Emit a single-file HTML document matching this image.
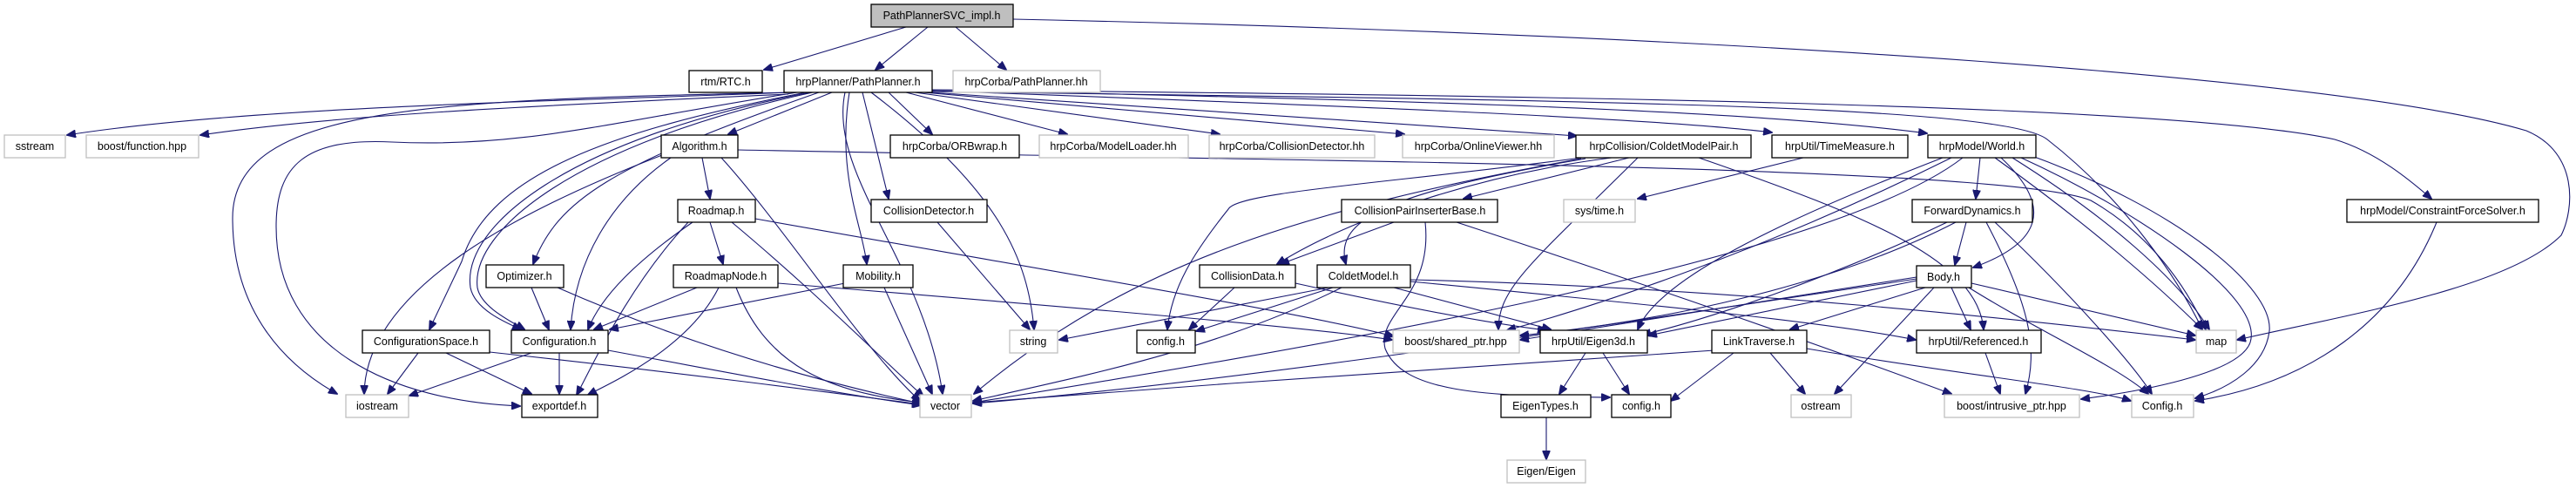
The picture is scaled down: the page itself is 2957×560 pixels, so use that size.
<!DOCTYPE html>
<html><head><meta charset="utf-8"><style>
html,body{margin:0;padding:0;background:#fff;}
svg{display:block;}
text{font-family:"Liberation Sans",sans-serif;font-size:12.5px;fill:#000;text-anchor:middle;}
.b{fill:#fff;stroke:#000;stroke-width:1.3;}
.g{fill:#fff;stroke:#bfbfbf;stroke-width:1.3;}
.e path{fill:none;stroke:#191970;stroke-width:1.1;marker-end:url(#a);}
</style></head><body>
<svg width="2957" height="560" viewBox="0 0 2957 560" xmlns="http://www.w3.org/2000/svg">
<defs><marker id="a" markerWidth="11" markerHeight="9" refX="10" refY="4.5" orient="auto" markerUnits="userSpaceOnUse"><path d="M0,0 L11,4.5 L0,9 z" fill="#191970" stroke="#191970"/></marker></defs>
<g class="e">
<path d="M1040,31 L877,80"/>
<path d="M1065,31 L1005,80"/>
<path d="M1097,31 L1155,80"/>
<path d="M1163,22 C2000,40 2700,90 2900,150 C2960,175 2955,240 2940,270 C2880,330 2700,360 2568,390"/>
<path d="M905,106 C700,115 300,120 77,155"/>
<path d="M905,108 C650,120 400,130 230,155"/>
<path d="M910,106 C500,115 267,120 267,250 C267,360 330,420 387,452"/>
<path d="M915,106 C700,140 600,170 450,163 C350,158 317,190 317,260 C317,400 450,460 597,466"/>
<path d="M955,106 L836,154"/>
<path d="M925,106 C700,150 560,200 530,300 L493,378"/>
<path d="M930,106 C650,160 530,260 540,330 C545,355 580,370 598,378"/>
<path d="M933,106 C660,165 540,265 548,330 C552,352 585,368 602,378"/>
<path d="M940,106 C700,190 640,230 612,303"/>
<path d="M975,106 C960,200 990,260 995,303"/>
<path d="M990,106 L1020,228"/>
<path d="M1000,106 C1150,220 1180,300 1187,378"/>
<path d="M970,106 C950,200 1060,300 1082,452"/>
<path d="M1020,106 L1070,154"/>
<path d="M1040,106 L1225,154"/>
<path d="M1050,106 L1400,154"/>
<path d="M1060,106 L1612,154"/>
<path d="M1068,106 L1810,156"/>
<path d="M1070,104 C1500,120 1900,135 2034,152"/>
<path d="M1070,103 C1600,115 2000,125 2212,153"/>
<path d="M1070,103 C1800,110 2500,120 2680,160 C2730,175 2770,210 2791,228"/>
<path d="M1070,105 C1800,115 2300,120 2350,160 C2440,230 2500,320 2528,378"/>
<path d="M847,172 C1500,185 2300,190 2400,230 C2470,270 2510,330 2532,378"/>
<path d="M806,181 L815,228"/>
<path d="M770,181 C700,230 660,300 655,378"/>
<path d="M760,178 C600,240 420,330 418,452"/>
<path d="M828,181 C900,260 990,400 1056,460"/>
<path d="M815,255 L830,303"/>
<path d="M795,255 C730,300 690,340 675,378"/>
<path d="M790,255 C720,330 680,420 662,453"/>
<path d="M840,255 C930,330 1000,400 1060,455"/>
<path d="M867,251 C1200,310 1500,360 1600,386"/>
<path d="M800,330 L682,378"/>
<path d="M825,330 C790,400 700,440 675,453"/>
<path d="M845,330 C880,420 950,450 1057,462"/>
<path d="M893,325 C1200,350 1500,375 1598,390"/>
<path d="M610,330 L630,378"/>
<path d="M640,330 C800,400 950,440 1057,463"/>
<path d="M970,325 L700,378"/>
<path d="M1015,330 L1070,452"/>
<path d="M480,405 L445,452"/>
<path d="M512,405 L610,452"/>
<path d="M562,404 C800,430 950,450 1057,464"/>
<path d="M610,405 L470,454"/>
<path d="M642,405 L642,452"/>
<path d="M698,402 C850,430 950,450 1057,465"/>
<path d="M1076,255 L1182,378"/>
<path d="M1850,181 C1700,200 1550,250 1466,303"/>
<path d="M1815,181 C1600,210 1420,220 1410,240 C1370,290 1345,330 1340,378"/>
<path d="M1815,182 C1500,240 1300,300 1118,452"/>
<path d="M1820,182 C1600,220 1530,250 1545,303"/>
<path d="M1870,181 L1680,228"/>
<path d="M1880,181 C1760,300 1720,330 1720,378"/>
<path d="M1950,181 C2150,250 2270,300 2277,378"/>
<path d="M1600,255 L1470,303"/>
<path d="M1636,255 C1645,340 1580,360 1590,400 C1610,450 1700,455 1848,456"/>
<path d="M1672,255 C1900,330 2100,400 2240,452"/>
<path d="M1417,330 L1365,378"/>
<path d="M1487,325 C1600,350 1700,370 1775,379"/>
<path d="M1525,330 L1216,390"/>
<path d="M1530,330 L1373,380"/>
<path d="M1540,330 C1400,400 1250,430 1117,460"/>
<path d="M1600,330 L1780,378"/>
<path d="M1619,323 C1900,350 2100,370 2199,390"/>
<path d="M1619,321 C2000,330 2350,370 2520,390"/>
<path d="M1820,405 L1790,452"/>
<path d="M1840,405 L1870,452"/>
<path d="M1775,479 L1775,527"/>
<path d="M1968,402 C1700,420 1400,440 1117,462"/>
<path d="M1990,405 L1918,460"/>
<path d="M2032,405 L2072,452"/>
<path d="M2074,400 C2250,430 2400,445 2446,460"/>
<path d="M2070,181 L1880,228"/>
<path d="M2273,181 L2268,228"/>
<path d="M2297,181 C2360,240 2340,280 2265,307"/>
<path d="M2290,181 C2400,260 2480,330 2528,378"/>
<path d="M2310,181 C2420,250 2500,320 2536,378"/>
<path d="M2320,181 C2450,240 2600,340 2583,393 C2570,430 2450,450 2389,458"/>
<path d="M2330,178 C2500,240 2610,330 2605,380 C2600,420 2560,445 2520,457"/>
<path d="M2230,181 C2000,270 1900,330 1880,378"/>
<path d="M2240,181 C2000,300 1800,360 1730,379"/>
<path d="M2253,181 C2100,300 1500,400 1117,462"/>
<path d="M2257,255 L2244,304"/>
<path d="M2235,255 C2100,320 1950,370 1885,384"/>
<path d="M2245,255 C2100,330 1900,370 1745,385"/>
<path d="M2280,255 C2330,350 2340,400 2325,452"/>
<path d="M2290,255 C2380,340 2450,420 2470,452"/>
<path d="M2210,330 L2055,378"/>
<path d="M2240,330 L2262,378"/>
<path d="M2263,325 L2520,385"/>
<path d="M2260,330 C2340,380 2430,420 2466,452"/>
<path d="M2220,330 L2106,452"/>
<path d="M2200,322 L1892,385"/>
<path d="M2200,318 L1745,390"/>
<path d="M2200,320 C1800,380 1400,440 1117,463"/>
<path d="M2279,405 L2296,452"/>
<path d="M2797,255 C2750,370 2650,440 2520,460"/>
</g>
<g>
<rect x="1000" y="5" width="163" height="26" fill="#bfbfbf" stroke="#000" stroke-width="1.3"/><text x="1081" y="22">PathPlannerSVC_impl.h</text>
<rect class="b" x="791" y="81" width="84" height="25"/><text x="833" y="98">rtm/RTC.h</text>
<rect class="b" x="900" y="81" width="170" height="25"/><text x="985" y="98">hrpPlanner/PathPlanner.h</text>
<rect class="g" x="1094" y="81" width="169" height="25"/><text x="1178" y="98">hrpCorba/PathPlanner.hh</text>
<rect class="g" x="5" y="155" width="70" height="26"/><text x="40" y="172">sstream</text>
<rect class="g" x="99" y="155" width="129" height="26"/><text x="163" y="172">boost/function.hpp</text>
<rect class="b" x="759" y="155" width="88" height="26"/><text x="803" y="172">Algorithm.h</text>
<rect class="b" x="1022" y="155" width="148" height="26"/><text x="1096" y="172">hrpCorba/ORBwrap.h</text>
<rect class="g" x="1193" y="155" width="171" height="26"/><text x="1278" y="172">hrpCorba/ModelLoader.hh</text>
<rect class="g" x="1388" y="155" width="190" height="26"/><text x="1483" y="172">hrpCorba/CollisionDetector.hh</text>
<rect class="g" x="1610" y="155" width="174" height="26"/><text x="1697" y="172">hrpCorba/OnlineViewer.hh</text>
<rect class="b" x="1809" y="155" width="201" height="26"/><text x="1910" y="172">hrpCollision/ColdetModelPair.h</text>
<rect class="b" x="2034" y="155" width="156" height="26"/><text x="2112" y="172">hrpUtil/TimeMeasure.h</text>
<rect class="b" x="2213" y="155" width="124" height="26"/><text x="2275" y="172">hrpModel/World.h</text>
<rect class="b" x="778" y="229" width="89" height="26"/><text x="822" y="246">Roadmap.h</text>
<rect class="b" x="1000" y="229" width="133" height="26"/><text x="1066" y="246">CollisionDetector.h</text>
<rect class="b" x="1540" y="229" width="179" height="26"/><text x="1630" y="246">CollisionPairInserterBase.h</text>
<rect class="g" x="1795" y="229" width="82" height="26"/><text x="1836" y="246">sys/time.h</text>
<rect class="b" x="2195" y="229" width="138" height="26"/><text x="2264" y="246">ForwardDynamics.h</text>
<rect class="b" x="2694" y="229" width="220" height="26"/><text x="2804" y="246">hrpModel/ConstraintForceSolver.h</text>
<rect class="b" x="558" y="304" width="89" height="26"/><text x="602" y="321">Optimizer.h</text>
<rect class="b" x="773" y="304" width="120" height="26"/><text x="833" y="321">RoadmapNode.h</text>
<rect class="b" x="968" y="304" width="80" height="26"/><text x="1008" y="321">Mobility.h</text>
<rect class="b" x="1377" y="304" width="110" height="26"/><text x="1432" y="321">CollisionData.h</text>
<rect class="b" x="1512" y="304" width="107" height="26"/><text x="1565" y="321">ColdetModel.h</text>
<rect class="b" x="2200" y="305" width="63" height="25"/><text x="2231" y="322">Body.h</text>
<rect class="b" x="416" y="379" width="146" height="26"/><text x="489" y="396">ConfigurationSpace.h</text>
<rect class="b" x="587" y="379" width="111" height="26"/><text x="642" y="396">Configuration.h</text>
<rect class="g" x="1159" y="379" width="55" height="26"/><text x="1186" y="396">string</text>
<rect class="b" x="1305" y="379" width="67" height="26"/><text x="1338" y="396">config.h</text>
<rect class="g" x="1599" y="379" width="145" height="26"/><text x="1671" y="396">boost/shared_ptr.hpp</text>
<rect class="b" x="1768" y="379" width="123" height="26"/><text x="1829" y="396">hrpUtil/Eigen3d.h</text>
<rect class="b" x="1965" y="379" width="109" height="26"/><text x="2019" y="396">LinkTraverse.h</text>
<rect class="b" x="2200" y="379" width="143" height="26"/><text x="2271" y="396">hrpUtil/Referenced.h</text>
<rect class="g" x="2521" y="379" width="46" height="26"/><text x="2544" y="396">map</text>
<rect class="g" x="397" y="453" width="72" height="26"/><text x="433" y="470">iostream</text>
<rect class="b" x="599" y="453" width="87" height="26"/><text x="642" y="470">exportdef.h</text>
<rect class="g" x="1056" y="453" width="59" height="26"/><text x="1085" y="470">vector</text>
<rect class="b" x="1723" y="453" width="103" height="26"/><text x="1774" y="470">EigenTypes.h</text>
<rect class="b" x="1850" y="453" width="68" height="26"/><text x="1884" y="470">config.h</text>
<rect class="g" x="2056" y="453" width="69" height="26"/><text x="2090" y="470">ostream</text>
<rect class="g" x="2232" y="453" width="155" height="26"/><text x="2309" y="470">boost/intrusive_ptr.hpp</text>
<rect class="g" x="2447" y="453" width="71" height="26"/><text x="2482" y="470">Config.h</text>
<rect class="g" x="1730" y="528" width="90" height="26"/><text x="1775" y="545">Eigen/Eigen</text>
</g>
</svg>
</body></html>
